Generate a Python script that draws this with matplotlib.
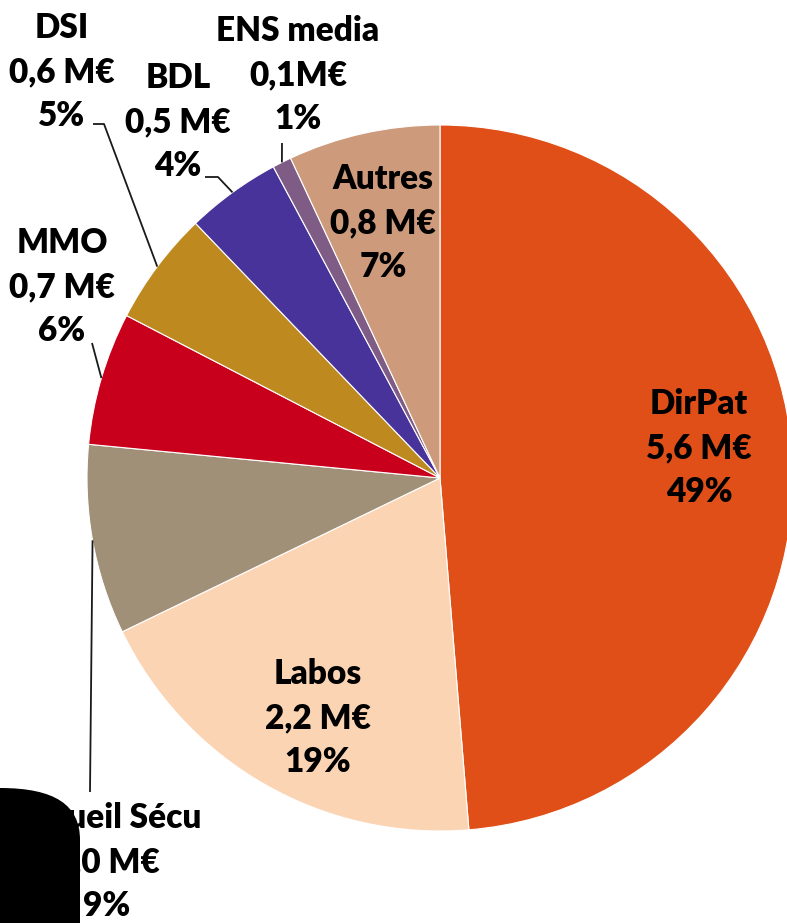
import numpy as np
import matplotlib
matplotlib.use('Agg')
import matplotlib.pyplot as plt
from matplotlib.path import Path
from matplotlib.patches import PathPatch

# Données du graphique (répartition des dépenses)
categories = ['DirPat', 'Labos', 'Accueil Sécu', 'MMO', 'DSI', 'BDL', 'ENS media', 'Autres']
montants = [5.6, 2.2, 1.0, 0.7, 0.6, 0.5, 0.1, 0.8]
montants_txt = ['5,6 M€', '2,2 M€', '1,0 M€', '0,7 M€', '0,6 M€', '0,5 M€', '0,1M€', '0,8 M€']
parts = ['49%', '19%', '9%', '6%', '5%', '4%', '1%', '7%']
couleurs = ['#E04F17', '#FBD4B4', '#A09078', '#C9001B', '#BE8A20', '#48339B', '#7E5C86', '#CD9B7C']

LARGEUR, HAUTEUR = 787, 923
CX, CY, R = 440, 478, 353  # centre et rayon du camembert en pixels


def px(x, y):
    # pixels de l'image -> coordonnées des données
    return (x - CX) / R, (CY - y) / R


plt.rcParams['font.family'] = ['Lato', 'DejaVu Sans']
fig = plt.figure(figsize=(LARGEUR / 100, HAUTEUR / 100), dpi=100)
ax = fig.add_axes([0, 0, 1, 1])

wedges, _ = ax.pie(montants, colors=couleurs, startangle=90, counterclock=False,
                   radius=1, wedgeprops=dict(edgecolor='white', linewidth=0.8))
ax.set_xlim(-CX / R, (LARGEUR - CX) / R)
ax.set_ylim((CY - HAUTEUR) / R, CY / R)
ax.set_aspect('auto')
ax.axis('off')

# Position des étiquettes (centre du bloc de texte, en pixels)
pos_etiquettes = [(699, 448), (318, 718), (107, 862), (62, 287), (62, 72), (178, 122), (298, 75), (383, 223)]

for i, (x, y) in enumerate(pos_etiquettes):
    tx, ty = px(x, y)
    ax.text(tx, ty, categories[i] + '\n' + montants_txt[i] + '\n' + parts[i],
            ha='center', va='center', fontsize=24, fontweight='heavy',
            color='black', linespacing=1.45, zorder=5)

# Lignes de rappel : points de départ côté texte (pixels), puis milieu de la part
rappels = {
    2: [(90, 792)],
    3: [(92, 343)],
    4: [(93, 124), (104, 124)],
    5: [(205, 177), (218, 177)],
    6: [(282, 143)],
}
for i, pts in rappels.items():
    w = wedges[i]
    a = np.deg2rad((w.theta1 + w.theta2) / 2)
    xs = [px(*p)[0] for p in pts] + [np.cos(a)]
    ys = [px(*p)[1] for p in pts] + [np.sin(a)]
    ax.plot(xs, ys, color='#1a1a1a', linewidth=1.3, zorder=4, solid_capstyle='butt')

# Forme noire en bas à gauche (cache une partie de l'étiquette)
verts = [(0, 788), (55, 788), (80, 805), (80, 840), (80, 923), (0, 923), (0, 788)]
codes = [Path.MOVETO, Path.CURVE4, Path.CURVE4, Path.CURVE4, Path.LINETO, Path.LINETO, Path.CLOSEPOLY]
verts_fig = [(x / LARGEUR, 1 - y / HAUTEUR) for x, y in verts]
fig.patches.append(PathPatch(Path(verts_fig, codes), transform=fig.transFigure,
                             facecolor='black', edgecolor='none', zorder=10))

fig.savefig('out.png', dpi=100)
